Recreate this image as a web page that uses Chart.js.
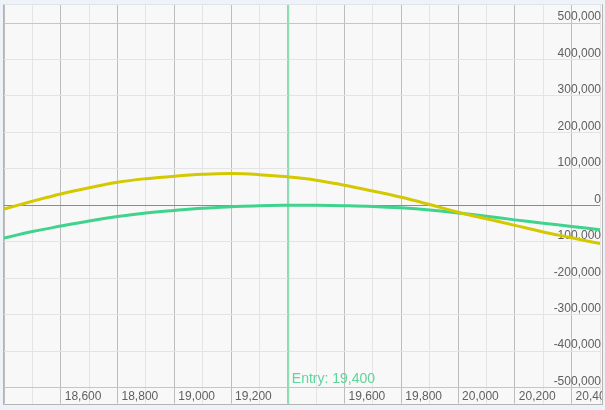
<!DOCTYPE html>
<html>
<head>
<meta charset="utf-8">
<script src="https://cdn.jsdelivr.net/npm/chart.js@4.4.1/dist/chart.umd.min.js"></script>
<style>
  html, body { margin: 0; padding: 0; background: #edf3f9; }
  .frame {
    position: absolute; left: 3px; top: 4px; width: 598px; height: 399px;
    border: 1px solid #b4b4b4; border-top-color: #dfe5ea; background: #f8f8f8;
  }
  canvas { display: block; }
</style>
</head>
<body>
<div class="frame"><canvas id="pnl" width="598" height="399"></canvas></div>
<script>
var prices = [18400, 18500, 18600, 18700, 18800, 18900, 19000, 19100, 19200, 19300, 19400,
              19500, 19600, 19700, 19800, 19900, 20000, 20100, 20200, 20300, 20400, 20500]
var yellowPnl = [-10000, 11000, 31000, 48000, 63000, 73000, 80000, 85000, 87000, 84000, 78000,
                 69000, 55000, 39000, 22000, 2000, -19000, -37000, -55000, -73000, -89000, -105000]
var greenPnl = [-90000, -72000, -57000, -43000, -31000, -21000, -14000, -8000, -4000, -1000, 0,
                0, -1000, -3000, -7000, -13000, -21000, -30000, -40000, -49000, -58000, -67000]

var xLabels = [18600, 18800, 19000, 19200, 19600, 19800, 20000, 20200, 20400]
var entryPrice = 19400

Chart.defaults.font.family = "'Liberation Sans', Arial, sans-serif"

const toPoints = (vals) => prices.map((p, i) => ({ x: p, y: vals[i] }))
const fmt = (v) => Math.round(v).toString().replace(/\B(?=(\d{3})+(?!\d))/g, ",")

const xGridColor = (ctx) => {
  const v = Math.round(ctx.tick.value)
  if (v % 200 === 0) return "#bdbdbd"
  return "#e4e4e4"
}

const yGridColor = (ctx) => {
  const v = Math.round(ctx.tick.value)
  if (Math.abs(v) === 500000) return "#c6c6c6"
  return "#e4e4e4"
}

// zero line + entry line under the curves, entry text on top
const entryMarks = {
  id: "entryMarks",
  beforeDatasetsDraw(chart) {
    const { ctx, chartArea, scales } = chart
    const x = Math.round(scales.x.getPixelForValue(entryPrice)) + 0.5
    const y0 = Math.round(scales.y.getPixelForValue(0)) + 0.5
    ctx.save()
    ctx.strokeStyle = "#5aa58a"
    ctx.lineWidth = 1
    ctx.beginPath()
    ctx.moveTo(chartArea.left, y0)
    ctx.lineTo(chartArea.right, y0)
    ctx.stroke()
    ctx.strokeStyle = "#8fdfb5"
    ctx.lineWidth = 1.5
    ctx.beginPath()
    ctx.moveTo(x, 0)
    ctx.lineTo(x, chart.height)
    ctx.stroke()
    ctx.restore()
  },
  afterDatasetsDraw(chart) {
    const { ctx, chartArea, scales } = chart
    const x = scales.x.getPixelForValue(entryPrice)
    ctx.save()
    ctx.fillStyle = "#5fd49b"
    ctx.font = "14px 'Liberation Sans', Arial, sans-serif"
    ctx.textBaseline = "alphabetic"
    ctx.fillText("Entry: " + fmt(entryPrice), x + 4, chartArea.bottom - 5)
    ctx.restore()
  },
}

new Chart(document.getElementById("pnl"), {
  type: "line",
  data: {
    datasets: [
      {
        data: toPoints(yellowPnl),
        borderColor: "#d4c800",
        borderWidth: 3,
        pointRadius: 0,
        tension: 0.4,
      },
      {
        data: toPoints(greenPnl),
        borderColor: "#3fd38d",
        borderWidth: 3,
        pointRadius: 0,
        tension: 0.4,
      },
    ],
  },
  options: {
    responsive: false,
    animation: false,
    layout: { padding: 0 },
    plugins: {
      legend: { display: false },
      tooltip: { enabled: false },
    },
    scales: {
      x: {
        type: "linear",
        position: "bottom",
        min: 18400,
        max: 20500,
        afterFit: (s) => { s.height = 16.4 },
        border: { display: false },
        grid: { color: xGridColor, tickLength: 16 },
        ticks: {
          stepSize: 100,
          autoSkip: false,
          maxRotation: 0,
          minRotation: 0,
          align: "start",
          labelOffset: 4,
          padding: -14,
          color: "#5f5f5f",
          font: { size: 12 },
          callback: (v) => (xLabels.includes(Math.round(v)) ? fmt(v) : ""),
        },
      },
      xTop: {
        type: "linear",
        position: "top",
        min: 18400,
        max: 20500,
        afterFit: (s) => { s.height = 18 },
        border: { display: false },
        grid: { color: xGridColor, tickLength: 18, drawOnChartArea: false },
        ticks: { stepSize: 100, display: false },
      },
      y: {
        position: "right",
        min: -500000,
        max: 500000,
        border: { display: false },
        grid: { color: yGridColor, drawTicks: false },
        ticks: {
          stepSize: 100000,
          mirror: true,
          padding: 1,
          labelOffset: -6,
          color: "#5f5f5f",
          font: { size: 12 },
          callback: (v) => fmt(v),
        },
      },
    },
  },
  plugins: [entryMarks],
})
</script>
</body>
</html>
